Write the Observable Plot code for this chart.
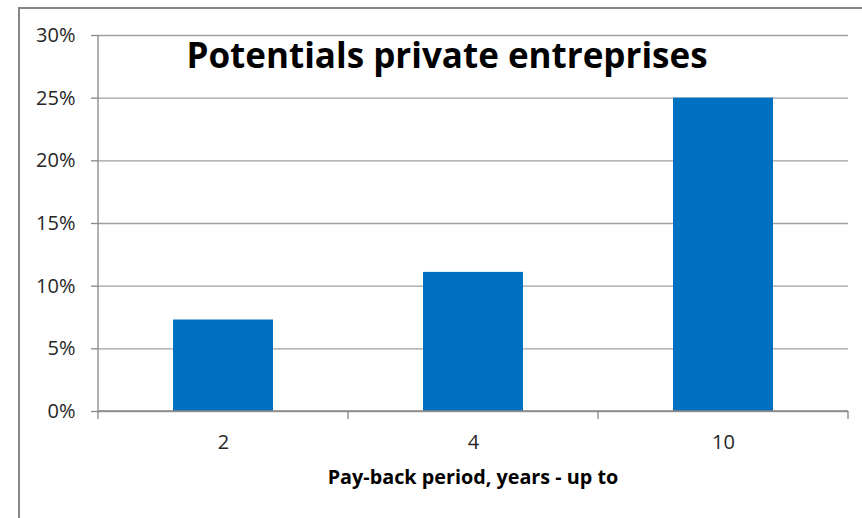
<!DOCTYPE html>
<html>
<head>
<meta charset="utf-8">
<script src="https://cdn.jsdelivr.net/npm/d3@7"></script>
<script src="https://cdn.jsdelivr.net/npm/@observablehq/plot@0.6"></script>
<style>
  html, body { margin: 0; padding: 0; background: #fff; width: 862px; height: 518px; overflow: hidden; }
  #wrap { position: relative; width: 862px; height: 518px; }
  #border { position: absolute; left: 18px; top: 7px; width: 900px; height: 600px; border: 2px solid #878787; box-sizing: border-box; }
  #chart { position: absolute; left: 0; top: 0; }
  svg { font-family: "Open Sans", sans-serif; }
</style>
</head>
<body>
<div id="wrap"><div id="border"></div><div id="chart"></div></div>
<script>
const title = "Potentials private entreprises";
const xLabel = "Pay-back period, years - up to";
const categories = ["2", "4", "10"];
const values = [0.073, 0.111, 0.25];
const yTicks = [0, 0.05, 0.10, 0.15, 0.20, 0.25, 0.30];

const data = categories.map((c, i) => ({cat: c, value: values[i]}));

const W = 862, H = 518;
const chart = Plot.plot({
  width: W,
  height: H,
  marginLeft: 97,
  marginRight: 14,
  marginTop: 35,
  marginBottom: 107,
  style: {background: "transparent", color: "#262626", fontFamily: "'Open Sans', sans-serif"},
  x: {domain: categories, paddingInner: 0.6, paddingOuter: 0.3, label: null},
  y: {domain: [0, 0.3], label: null},
  marks: [
    Plot.ruleY(yTicks, {stroke: "#a0a0a0", strokeWidth: 1.3}),
    Plot.barY(data, {x: "cat", y: "value", fill: "#0070C0"}),
    Plot.axisY({ticks: yTicks, tickFormat: d3.format(".0%"), tickSize: 6, tickPadding: 16, fontSize: 20, stroke: "#878787", strokeWidth: 1.3, strokeOpacity: 1, label: null}),
    Plot.axisX({tickSize: 0, tickPadding: 23, fontSize: 20, label: null}),
    Plot.text([xLabel], {frameAnchor: "bottom", dy: 72, fontSize: 19.8, fontWeight: "bold", fill: "#000"}),
    Plot.text([title], {frameAnchor: "top", dx: -26, dy: 8, fontSize: 35, fontWeight: "bold", fill: "#000"})
  ]
});

// x-axis baseline, y-axis line, and category boundary ticks from the band scale
const sx = chart.scale("x");
const sy = chart.scale("y");
const gap = (sx.step - sx.bandwidth) / 2;
const edges = categories.map(c => sx.apply(c) - gap);
edges.push(sx.apply(categories[categories.length - 1]) + sx.bandwidth + gap);
const y0 = sy.apply(0), yTop = sy.apply(0.3);
const g = d3.select(chart).append("g").attr("stroke", "#878787").attr("stroke-width", 1.3);
g.append("line").attr("x1", edges[0]).attr("x2", edges[0]).attr("y1", yTop).attr("y2", y0);
g.append("line").attr("x1", edges[0]).attr("x2", edges[edges.length - 1]).attr("y1", y0).attr("y2", y0);
edges.forEach(e => g.append("line").attr("x1", e).attr("x2", e).attr("y1", y0).attr("y2", y0 + 8));

document.getElementById("chart").appendChild(chart);
</script>
</body>
</html>
